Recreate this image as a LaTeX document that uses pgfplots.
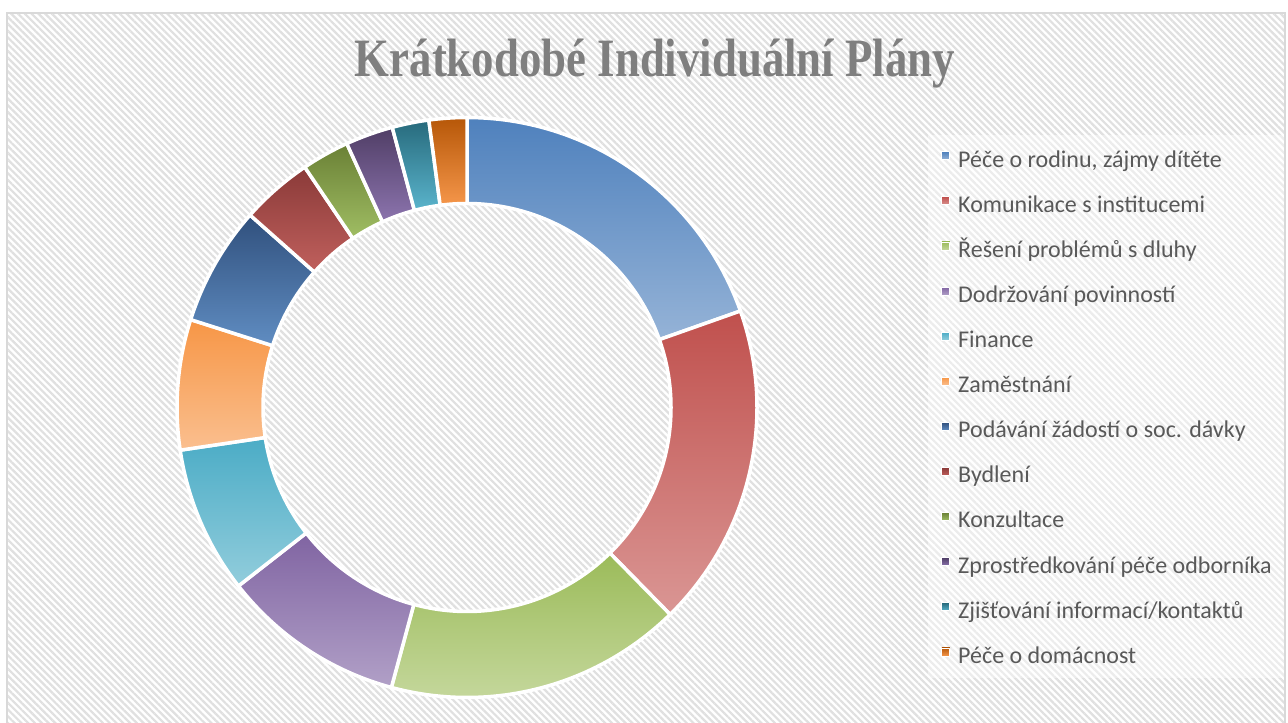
\documentclass[border=0pt]{standalone}
\usepackage{pgfplots}
\pgfplotsset{compat=1.18}
\usepackage{pgfplotstable}
\usepackage{fontspec}
\setmainfont{Carlito}
\newfontfamily\titlefont{Liberation Serif}
\usetikzlibrary{patterns.meta}

\definecolor{t0}{HTML}{4F81BD}\definecolor{b0}{HTML}{95B3D7}
\definecolor{t1}{HTML}{C0504D}\definecolor{b1}{HTML}{DA9694}
\definecolor{t2}{HTML}{9BBB59}\definecolor{b2}{HTML}{C4D79B}
\definecolor{t3}{HTML}{8064A2}\definecolor{b3}{HTML}{B1A0C7}
\definecolor{t4}{HTML}{4BACC6}\definecolor{b4}{HTML}{92CDDC}
\definecolor{t5}{HTML}{F79646}\definecolor{b5}{HTML}{FABF8F}
\definecolor{t6}{HTML}{30507D}\definecolor{b6}{HTML}{608DC2}
\definecolor{t7}{HTML}{8A3A38}\definecolor{b7}{HTML}{C0605D}
\definecolor{t8}{HTML}{6A8035}\definecolor{b8}{HTML}{A0BE64}
\definecolor{t9}{HTML}{503E66}\definecolor{b9}{HTML}{8C74AE}
\definecolor{t10}{HTML}{276A7C}\definecolor{b10}{HTML}{5AB4CC}
\definecolor{t11}{HTML}{B65708}\definecolor{b11}{HTML}{F5964A}
\definecolor{legendtext}{HTML}{595959}
\definecolor{titlegray}{HTML}{7F7F7F}

\pgfplotstableread{
value
19.6
18.05
16.55
10.25
8.2
7.25
6.65
4.0
2.65
2.65
2.05
2.1
}\donutdata

\begin{document}
\begin{tikzpicture}[x=1pt,y=1pt]
% cumulative angles (clockwise from the top)
\def\total{0}
\pgfplotsforeachungrouped \i in {0,...,11}{%
  \pgfplotstablegetelem{\i}{value}\of\donutdata
  \pgfmathsetmacro\newtotal{\total+\pgfplotsretval}%
  \global\let\total\newtotal
}
\def\cum{0}
\pgfplotsforeachungrouped \i in {0,...,11}{%
  \pgfplotstablegetelem{\i}{value}\of\donutdata
  \pgfmathsetmacro\newcum{\cum+\pgfplotsretval}%
  \pgfmathsetmacro\angA{90-(\cum/\total)*360}%
  \pgfmathsetmacro\angB{90-(\newcum/\total)*360}%
  \expandafter\xdef\csname sa\i\endcsname{\angA}%
  \expandafter\xdef\csname sb\i\endcsname{\angB}%
  \global\let\cum\newcum
}
\useasboundingbox (0,0) rectangle (644,361);
\fill[white] (0,0) rectangle (644,361);
\fill[pattern={Lines[angle=-45,distance=2.4pt,line width=1.1pt]}, pattern color=black!12] (3.5,0) rectangle (642.5,354.5);
\draw[black!15, line width=0.75pt] (3.5,-2) -- (3.5,354.5) -- (642.5,354.5) -- (642.5,-2);
\fill[white, opacity=0.4] (464,293.5) rectangle (642,22);
\node[font=\titlefont\bfseries\fontsize{27}{30}\selectfont, text=titlegray, anchor=base, inner sep=0pt] at (327.5,322.5) {\scalebox{0.83}[1]{Krátkodobé Individuální Plány}};
\begin{axis}[
  at={(0,0)}, anchor=south west,
  x=0.5pt, y=0.5pt, xmin=0, xmax=1288, ymin=0, ymax=722,
  hide axis, clip=false,
  declare function={
    ringang(\t,\p,\q)=(\t<50.5) ? (\p+(\q-\p)*\t/50) : (\q+(\p-\q)*(\t-51)/50);
    ringrad(\t)=(\t<50.5) ? 290 : 204;
  },
  legend image code/.code={\path[#1, line width=0.4pt] (0pt,1.4pt) rectangle (4pt,5.4pt);},
  legend cell align=left,
  legend style={at={(axis cs:941,571.3)}, anchor=north west, draw=none, fill=none,
    inner sep=0pt, font=\fontsize{12}{14}\selectfont, text=legendtext,
    row sep=11.05pt,
    nodes={inner sep=0pt, text height=8pt, text depth=3.5pt},
    /tikz/every odd column/.append style={column sep=4pt}},
  legend entries={{Péče o rodinu, zájmy dítěte},{Komunikace s institucemi},{Řešení problémů s dluhy},{Dodržování povinností},{Finance},{Zaměstnání},{Podávání žádostí o soc. dávky},{Bydlení},{Konzultace},{Zprostředkování péče odborníka},{Zjišťování informací/kontaktů},{Péče o domácnost}},
]
\pgfplotsinvokeforeach{0,...,11}{
  \addplot[draw=white, line width=1.75pt, line join=round, top color=t#1, bottom color=b#1,
    samples at={0,...,101}, variable=\t]
    ({467+ringrad(\t)*cos(ringang(\t,\csname sa#1\endcsname,\csname sb#1\endcsname))},
     {314.5+ringrad(\t)*sin(ringang(\t,\csname sa#1\endcsname,\csname sb#1\endcsname))}) -- cycle;
}
\end{axis}
\end{tikzpicture}
\end{document}
